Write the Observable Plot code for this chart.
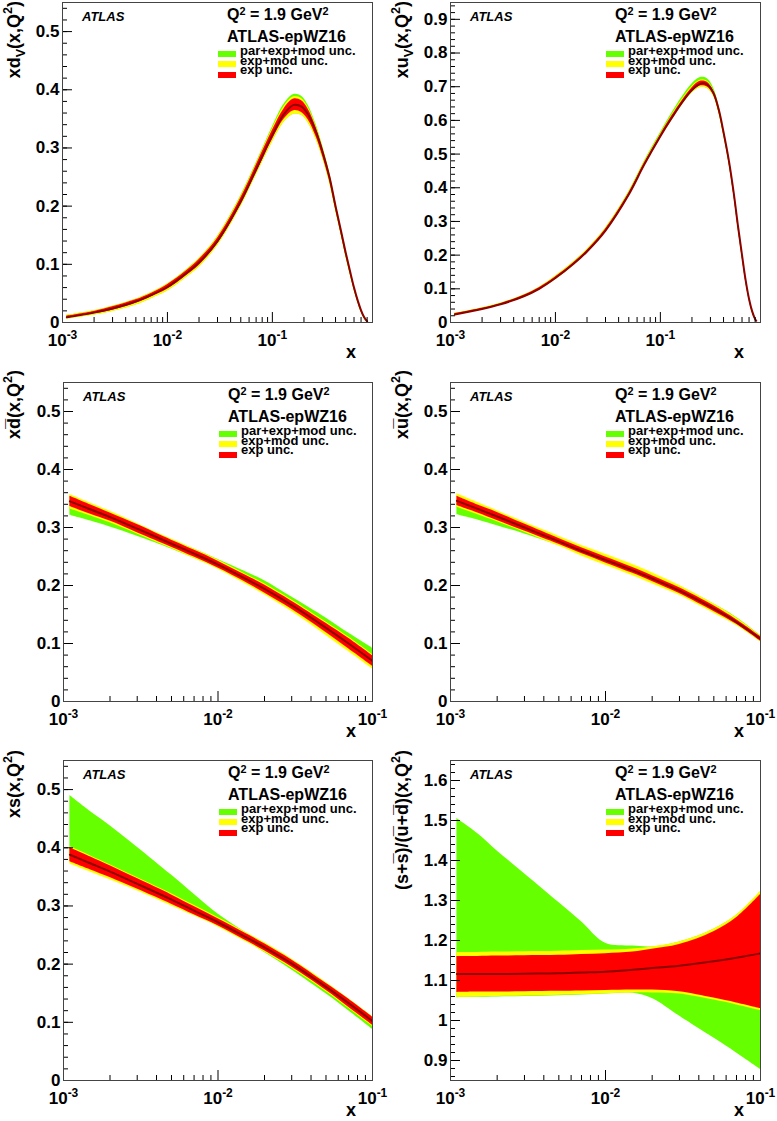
<!DOCTYPE html>
<html>
<head>
<meta charset="utf-8">
<script src="https://cdn.jsdelivr.net/npm/d3@7"></script>
<script src="https://cdn.jsdelivr.net/npm/@observablehq/plot@0.6"></script>
<style>
  body { margin: 0; background: #fff; }
  #root { position: relative; width: 777px; height: 1121px; overflow: hidden; background: #fff;
          font-family: "Liberation Sans", Arial, Helvetica, sans-serif; }
  .panel { position: absolute; }
  .ann { position: absolute; font-weight: bold; color: #000; white-space: nowrap; }
  .ann sup { font-size: 0.68em; vertical-align: 0.5em; line-height: 0; }
  .sw { position: absolute; width: 18px; height: 6px; }
</style>
</head>
<body>
<div id="root"></div>
<script>
// ---------------- data ----------------
// common x grid for the sea-quark panels
const X_SEA = [0.0011, 0.0015, 0.002, 0.003, 0.005, 0.007, 0.01, 0.015, 0.02, 0.03, 0.05, 0.07, 0.1];

// x d_v
const X_DV = [0.0011, 0.002, 0.003, 0.005, 0.007, 0.01, 0.015, 0.02, 0.03, 0.05, 0.07, 0.1, 0.13, 0.16, 0.19, 0.22, 0.26, 0.3, 0.35, 0.4, 0.45, 0.5, 0.55, 0.6, 0.65, 0.7, 0.75, 0.8];
const DV_C      = [0.009, 0.017, 0.024, 0.036, 0.047, 0.061, 0.084, 0.103, 0.140, 0.208, 0.263, 0.322, 0.359, 0.374, 0.371, 0.357, 0.328, 0.294, 0.250, 0.200, 0.158, 0.120, 0.088, 0.060, 0.038, 0.021, 0.009, 0.002];
const DV_EXP_LO = [0.007, 0.015, 0.021, 0.033, 0.044, 0.057, 0.080, 0.098, 0.135, 0.202, 0.256, 0.314, 0.350, 0.364, 0.361, 0.348, 0.320, 0.287, 0.244, 0.195, 0.154, 0.116, 0.085, 0.057, 0.036, 0.019, 0.008, 0.001];
const DV_EXP_HI = [0.011, 0.019, 0.027, 0.039, 0.050, 0.065, 0.088, 0.108, 0.145, 0.214, 0.270, 0.330, 0.368, 0.384, 0.381, 0.366, 0.336, 0.301, 0.256, 0.205, 0.162, 0.124, 0.091, 0.063, 0.040, 0.023, 0.010, 0.003];
const DV_MOD_LO = [0.006, 0.013, 0.019, 0.030, 0.041, 0.054, 0.077, 0.095, 0.132, 0.199, 0.253, 0.310, 0.345, 0.358, 0.356, 0.343, 0.316, 0.284, 0.241, 0.193, 0.152, 0.114, 0.083, 0.056, 0.035, 0.018, 0.007, 0.000];
const DV_MOD_HI = [0.012, 0.020, 0.028, 0.040, 0.051, 0.066, 0.089, 0.109, 0.147, 0.216, 0.272, 0.333, 0.372, 0.388, 0.385, 0.369, 0.338, 0.303, 0.258, 0.207, 0.163, 0.125, 0.092, 0.064, 0.041, 0.024, 0.011, 0.004];
const DV_PAR_LO = [0.006, 0.013, 0.019, 0.030, 0.041, 0.054, 0.077, 0.095, 0.132, 0.199, 0.253, 0.310, 0.345, 0.358, 0.356, 0.343, 0.316, 0.284, 0.241, 0.193, 0.152, 0.114, 0.083, 0.056, 0.035, 0.018, 0.007, 0.000];
const DV_PAR_HI = [0.012, 0.020, 0.028, 0.040, 0.051, 0.066, 0.090, 0.110, 0.148, 0.218, 0.274, 0.336, 0.376, 0.392, 0.389, 0.373, 0.341, 0.305, 0.259, 0.208, 0.164, 0.126, 0.093, 0.064, 0.041, 0.024, 0.011, 0.004];

// x u_v
const X_UV = [0.0011, 0.002, 0.003, 0.005, 0.007, 0.01, 0.015, 0.02, 0.03, 0.05, 0.07, 0.1, 0.13, 0.16, 0.2, 0.24, 0.28, 0.32, 0.36, 0.4, 0.45, 0.5, 0.55, 0.6, 0.65, 0.7, 0.75, 0.8, 0.82];
const UV_C      = [0.024, 0.040, 0.054, 0.078, 0.100, 0.132, 0.175, 0.211, 0.273, 0.380, 0.468, 0.553, 0.610, 0.652, 0.690, 0.709, 0.706, 0.682, 0.632, 0.565, 0.480, 0.385, 0.285, 0.200, 0.125, 0.070, 0.033, 0.010, 0.005];
const UV_EXP_LO = [0.022, 0.038, 0.052, 0.075, 0.097, 0.129, 0.172, 0.208, 0.269, 0.376, 0.464, 0.549, 0.605, 0.647, 0.684, 0.702, 0.699, 0.676, 0.626, 0.560, 0.475, 0.381, 0.281, 0.197, 0.122, 0.068, 0.031, 0.009, 0.004];
const UV_EXP_HI = [0.026, 0.042, 0.056, 0.081, 0.103, 0.135, 0.178, 0.214, 0.277, 0.384, 0.472, 0.557, 0.615, 0.657, 0.696, 0.716, 0.713, 0.688, 0.638, 0.570, 0.485, 0.389, 0.289, 0.203, 0.128, 0.072, 0.035, 0.011, 0.006];
const UV_MOD_LO = [0.021, 0.037, 0.051, 0.074, 0.096, 0.127, 0.170, 0.206, 0.267, 0.374, 0.462, 0.547, 0.602, 0.644, 0.681, 0.698, 0.695, 0.673, 0.623, 0.557, 0.473, 0.379, 0.279, 0.195, 0.121, 0.067, 0.030, 0.008, 0.003];
const UV_MOD_HI = [0.027, 0.043, 0.057, 0.082, 0.104, 0.137, 0.180, 0.216, 0.279, 0.386, 0.474, 0.559, 0.618, 0.661, 0.700, 0.719, 0.716, 0.691, 0.641, 0.573, 0.487, 0.391, 0.291, 0.205, 0.129, 0.073, 0.036, 0.012, 0.007];
const UV_PAR_LO = [0.021, 0.037, 0.051, 0.074, 0.096, 0.127, 0.170, 0.206, 0.267, 0.374, 0.462, 0.547, 0.602, 0.644, 0.681, 0.698, 0.695, 0.673, 0.623, 0.557, 0.473, 0.379, 0.279, 0.195, 0.121, 0.067, 0.030, 0.008, 0.003];
const UV_PAR_HI = [0.027, 0.043, 0.057, 0.082, 0.104, 0.137, 0.181, 0.217, 0.280, 0.388, 0.477, 0.563, 0.624, 0.668, 0.708, 0.727, 0.724, 0.698, 0.646, 0.577, 0.490, 0.393, 0.292, 0.206, 0.130, 0.073, 0.036, 0.012, 0.007];

// x dbar
const DB_C      = [0.345, 0.331, 0.318, 0.298, 0.272, 0.255, 0.236, 0.212, 0.194, 0.166, 0.127, 0.100, 0.070];
const DB_EXP_LO = [0.336, 0.323, 0.311, 0.291, 0.266, 0.249, 0.230, 0.206, 0.187, 0.159, 0.119, 0.091, 0.061];
const DB_EXP_HI = [0.354, 0.339, 0.325, 0.305, 0.278, 0.261, 0.242, 0.218, 0.201, 0.173, 0.135, 0.109, 0.079];
const DB_MOD_LO = [0.332, 0.320, 0.308, 0.289, 0.264, 0.247, 0.228, 0.203, 0.184, 0.155, 0.114, 0.086, 0.056];
const DB_MOD_HI = [0.357, 0.342, 0.328, 0.307, 0.280, 0.263, 0.244, 0.220, 0.203, 0.175, 0.137, 0.111, 0.081];
const DB_PAR_LO = [0.321, 0.311, 0.301, 0.285, 0.263, 0.247, 0.230, 0.207, 0.189, 0.162, 0.123, 0.097, 0.067];
const DB_PAR_HI = [0.343, 0.332, 0.321, 0.303, 0.279, 0.263, 0.245, 0.224, 0.208, 0.180, 0.144, 0.118, 0.092];

// x ubar
const UB_C      = [0.346, 0.332, 0.319, 0.300, 0.276, 0.260, 0.244, 0.226, 0.212, 0.191, 0.160, 0.137, 0.108];
const UB_EXP_LO = [0.338, 0.325, 0.312, 0.294, 0.271, 0.255, 0.239, 0.221, 0.207, 0.186, 0.155, 0.133, 0.104];
const UB_EXP_HI = [0.354, 0.339, 0.326, 0.306, 0.281, 0.265, 0.249, 0.231, 0.217, 0.196, 0.165, 0.141, 0.112];
const UB_MOD_LO = [0.335, 0.322, 0.310, 0.292, 0.268, 0.251, 0.235, 0.217, 0.203, 0.183, 0.152, 0.131, 0.103];
const UB_MOD_HI = [0.358, 0.343, 0.329, 0.309, 0.285, 0.269, 0.254, 0.236, 0.222, 0.200, 0.168, 0.144, 0.113];
const UB_PAR_LO = [0.322, 0.313, 0.303, 0.289, 0.269, 0.253, 0.238, 0.220, 0.206, 0.185, 0.154, 0.132, 0.104];
const UB_PAR_HI = [0.345, 0.333, 0.321, 0.303, 0.280, 0.264, 0.250, 0.232, 0.219, 0.199, 0.168, 0.145, 0.114];

// x s
const S_C      = [0.388, 0.373, 0.359, 0.338, 0.311, 0.292, 0.272, 0.247, 0.229, 0.201, 0.161, 0.133, 0.102];
const S_EXP_LO = [0.376, 0.362, 0.349, 0.329, 0.303, 0.285, 0.266, 0.241, 0.223, 0.195, 0.155, 0.126, 0.095];
const S_EXP_HI = [0.400, 0.384, 0.369, 0.347, 0.319, 0.299, 0.278, 0.253, 0.235, 0.207, 0.167, 0.140, 0.109];
const S_MOD_LO = [0.372, 0.358, 0.345, 0.326, 0.300, 0.283, 0.264, 0.239, 0.221, 0.193, 0.153, 0.124, 0.093];
const S_MOD_HI = [0.402, 0.386, 0.371, 0.349, 0.321, 0.301, 0.280, 0.255, 0.237, 0.209, 0.169, 0.141, 0.110];
const S_PAR_LO = [0.376, 0.362, 0.349, 0.329, 0.303, 0.285, 0.266, 0.241, 0.220, 0.190, 0.149, 0.120, 0.088];
const S_PAR_HI = [0.490, 0.462, 0.438, 0.401, 0.353, 0.320, 0.286, 0.255, 0.235, 0.207, 0.167, 0.140, 0.109];

// (s+sbar)/(ubar+dbar)
const RS_C      = [1.116, 1.116, 1.116, 1.117, 1.118, 1.120, 1.122, 1.127, 1.131, 1.137, 1.148, 1.157, 1.168];
const RS_EXP_LO = [1.070, 1.071, 1.071, 1.072, 1.073, 1.074, 1.075, 1.076, 1.076, 1.072, 1.056, 1.044, 1.030];
const RS_EXP_HI = [1.160, 1.160, 1.161, 1.162, 1.163, 1.165, 1.167, 1.171, 1.178, 1.190, 1.222, 1.257, 1.315];
const RS_MOD_LO = [1.058, 1.059, 1.060, 1.061, 1.063, 1.065, 1.067, 1.069, 1.069, 1.066, 1.051, 1.039, 1.025];
const RS_MOD_HI = [1.170, 1.170, 1.171, 1.172, 1.173, 1.175, 1.176, 1.179, 1.184, 1.196, 1.228, 1.263, 1.322];
const RS_PAR_LO = [1.057, 1.058, 1.059, 1.060, 1.062, 1.064, 1.066, 1.068, 1.055, 1.011, 0.956, 0.919, 0.878];
const RS_PAR_HI = [1.505, 1.467, 1.424, 1.367, 1.295, 1.247, 1.193, 1.186, 1.184, 1.196, 1.228, 1.263, 1.322];

// axis tick labels
const X_MAJOR = [0.001, 0.01, 0.1];
const Y_TICKS_V  = [0, 0.1, 0.2, 0.3, 0.4, 0.5];
const Y_TICKS_UV = [0, 0.1, 0.2, 0.3, 0.4, 0.5, 0.6, 0.7, 0.8, 0.9];
const Y_TICKS_RS = [0.9, 1, 1.1, 1.2, 1.3, 1.4, 1.5, 1.6];

// text
const Q2_TEXT = "Q<sup>2</sup> = 1.9 GeV<sup>2</sup>";
const FIT_NAME = "ATLAS-epWZ16";
const LEGEND_LABELS = ["par+exp+mod unc.", "exp+mod unc.", "exp unc."];
const COLORS = {par: "#66ff00", mod: "#ffff00", exp: "#ff0000", line: "#8b0000"};

// ---------------- build ----------------
function rows(X, C, eLo, eHi, mLo, mHi, pLo, pHi) {
  return X.map((x, i) => ({x, c: C[i], eLo: eLo[i], eHi: eHi[i], mLo: mLo[i], mHi: mHi[i], pLo: pLo[i], pHi: pHi[i]}));
}

const PANELS = [
  {left: 0, top: 0, w: 388, h: 372, mL: 62, mR: 16, mT: 2, mB: 50, xMax: 0.9, yDom: [0, 0.55], yTicks: Y_TICKS_V, titleEnd: 1,
   title: [["xd", 0], ["V", 1], ["(x,Q", 0], ["2", -1], [")", 0]],
   data: rows(X_DV, DV_C, DV_EXP_LO, DV_EXP_HI, DV_MOD_LO, DV_MOD_HI, DV_PAR_LO, DV_PAR_HI)},
  {left: 388, top: 0, w: 389, h: 372, mL: 62, mR: 17, mT: 2, mB: 50, xMax: 0.9, yDom: [0, 0.95], yTicks: Y_TICKS_UV, titleEnd: 1,
   title: [["xu", 0], ["V", 1], ["(x,Q", 0], ["2", -1], [")", 0]],
   data: rows(X_UV, UV_C, UV_EXP_LO, UV_EXP_HI, UV_MOD_LO, UV_MOD_HI, UV_PAR_LO, UV_PAR_HI)},
  {left: 0, top: 366, w: 388, h: 379, mL: 63, mR: 16, mT: 16, mB: 44, xMax: 0.1, yDom: [0, 0.55], yTicks: Y_TICKS_V, titleEnd: 4,
   title: [["xd\u0305(x,Q", 0], ["2", -1], [")", 0]],
   data: rows(X_SEA, DB_C, DB_EXP_LO, DB_EXP_HI, DB_MOD_LO, DB_MOD_HI, DB_PAR_LO, DB_PAR_HI)},
  {left: 388, top: 366, w: 389, h: 379, mL: 62, mR: 17, mT: 16, mB: 44, xMax: 0.1, yDom: [0, 0.55], yTicks: Y_TICKS_V, titleEnd: 4,
   title: [["xu\u0305(x,Q", 0], ["2", -1], [")", 0]],
   data: rows(X_SEA, UB_C, UB_EXP_LO, UB_EXP_HI, UB_MOD_LO, UB_MOD_HI, UB_PAR_LO, UB_PAR_HI)},
  {left: 0, top: 745, w: 388, h: 376, mL: 63, mR: 16, mT: 15, mB: 41, xMax: 0.1, yDom: [0, 0.55], yTicks: Y_TICKS_V, titleEnd: 5,
   title: [["xs(x,Q", 0], ["2", -1], [")", 0]],
   data: rows(X_SEA, S_C, S_EXP_LO, S_EXP_HI, S_MOD_LO, S_MOD_HI, S_PAR_LO, S_PAR_HI)},
  {left: 388, top: 745, w: 389, h: 376, mL: 62, mR: 17, mT: 15, mB: 41, xMax: 0.1, yDom: [0.85, 1.65], yTicks: Y_TICKS_RS, titleEnd: 5,
   title: [["(s+s\u0305)/(u\u0305+d\u0305)(x,Q", 0], ["2", -1], [")", 0]],
   data: rows(X_SEA, RS_C, RS_EXP_LO, RS_EXP_HI, RS_MOD_LO, RS_MOD_HI, RS_PAR_LO, RS_PAR_HI)}
];

const root = document.getElementById("root");
const NS = "http://www.w3.org/2000/svg";
const FONT = "'Liberation Sans', Arial, Helvetica, sans-serif";

function minorX(max) {
  const t = [];
  for (const d of X_MAJOR) for (let k = 2; k < 10; k++) { const v = +(k * d).toPrecision(3); if (v <= max) t.push(v); }
  return t;
}
function minorY([lo, hi]) {
  return d3.range(Math.ceil(lo / 0.02 - 1e-6), Math.floor(hi / 0.02 + 1e-6) + 1).map(i => +(i * 0.02).toFixed(3));
}

// place a text so that its baseline sits at `baseline`; the box is kept compact (lineH)
function addDiv(html, left, baseline, size, lineH, extraStyle = "") {
  const d = document.createElement("div");
  d.className = "ann";
  const top = baseline - (lineH / 2 + 0.3465 * size);
  d.style.cssText = `left:${left}px;top:${top}px;font-size:${size}px;line-height:${lineH}px;height:${lineH}px;${extraStyle}`;
  d.innerHTML = html;
  root.appendChild(d);
}

for (const p of PANELS) {
  const fw = p.w - p.mL - p.mR;
  const fh = p.h - p.mT - p.mB;
  const curve = "catmull-rom";
  const fmtY = d => String(+d.toFixed(2));
  const xMaj = X_MAJOR.filter(v => v <= p.xMax * 1.0001);
  const chart = Plot.plot({
    width: p.w, height: p.h,
    marginLeft: p.mL, marginRight: p.mR, marginTop: p.mT, marginBottom: p.mB,
    x: {type: "log", domain: [0.001, p.xMax]},
    y: {domain: p.yDom},
    style: {fontFamily: FONT, fontSize: "17px", fontWeight: "bold", background: "transparent", overflow: "visible", color: "#000"},
    marks: [
      Plot.areaY(p.data, {x: "x", y1: "pLo", y2: "pHi", fill: COLORS.par, curve, clip: true}),
      Plot.areaY(p.data, {x: "x", y1: "mLo", y2: "mHi", fill: COLORS.mod, curve, clip: true}),
      Plot.areaY(p.data, {x: "x", y1: "eLo", y2: "eHi", fill: COLORS.exp, curve, clip: true}),
      Plot.line(p.data, {x: "x", y: "c", stroke: COLORS.line, strokeWidth: 2, curve, clip: true}),
      Plot.tickY(minorY(p.yDom), {y: d => d, insetRight: fw - 5, stroke: "#000"}),
      Plot.tickY(p.yTicks, {y: d => d, insetRight: fw - 10, stroke: "#000"}),
      Plot.tickX(minorX(p.xMax), {x: d => d, insetTop: fh - 5, stroke: "#000"}),
      Plot.tickX(xMaj, {x: d => d, insetTop: fh - 10, stroke: "#000"}),
      Plot.axisY({ticks: p.yTicks, tickSize: 0, tickPadding: 3, tickFormat: fmtY, label: null}),
      Plot.axisX({ticks: xMaj, tickSize: 0, tickPadding: 11,
                  tickFormat: d => String(Math.round(Math.log10(d))), label: null}),
      Plot.frame({stroke: "#444"})
    ]
  });

  // power-of-ten tick labels: "10" with a superscript exponent
  chart.querySelectorAll('g[aria-label="x-axis tick label"] text').forEach(t => {
    const e = t.textContent;
    t.textContent = "10";
    const s = document.createElementNS(NS, "tspan");
    s.setAttribute("dy", "-7");
    s.setAttribute("font-size", "12");
    s.textContent = e;
    t.appendChild(s);
  });

  // y-axis title (rotated, right-aligned to the top)
  const yt = document.createElementNS(NS, "text");
  yt.setAttribute("transform", `translate(20,${p.titleEnd}) rotate(-90)`);
  yt.setAttribute("text-anchor", "end");
  yt.setAttribute("font-size", "18");
  yt.setAttribute("font-weight", "bold");
  yt.setAttribute("font-family", FONT);
  let shift = 0;
  for (const [s, k] of p.title) {
    const ts = document.createElementNS(NS, "tspan");
    const target = k === 1 ? 5 : k === -1 ? -8 : 0;
    if (target !== shift) ts.setAttribute("dy", target - shift);
    shift = target;
    if (k) ts.setAttribute("font-size", "12.5");
    ts.textContent = s;
    yt.appendChild(ts);
  }
  chart.appendChild(yt);

  // x-axis title
  const xt = document.createElementNS(NS, "text");
  xt.setAttribute("x", p.w - p.mR - 16);
  xt.setAttribute("y", p.h - p.mB + 36);
  xt.setAttribute("text-anchor", "end");
  xt.setAttribute("font-size", "18");
  xt.setAttribute("font-weight", "bold");
  xt.setAttribute("font-family", FONT);
  xt.textContent = "x";
  chart.appendChild(xt);

  const wrap = document.createElement("div");
  wrap.className = "panel";
  wrap.style.left = p.left + "px";
  wrap.style.top = p.top + "px";
  wrap.appendChild(chart);
  root.appendChild(wrap);

  // annotations and legend, placed relative to the frame
  const fx = p.left + p.mL, fy = p.top + p.mT;
  addDiv("ATLAS", fx + 20, fy + 19, 13, 13, "font-style:italic;");
  addDiv(Q2_TEXT, fx + 165, fy + 18.5, 16, 16);
  addDiv(FIT_NAME, fx + 165, fy + 40.6, 16, 16);
  const swCenters = [51.5, 62, 72.5];
  const baselines = [53, 62.8, 72.5];
  const swColors = [COLORS.par, COLORS.mod, COLORS.exp];
  LEGEND_LABELS.forEach((lab, i) => {
    const sw = document.createElement("div");
    sw.className = "sw";
    sw.style.left = (fx + 155.5) + "px";
    sw.style.top = (fy + swCenters[i] - 3) + "px";
    sw.style.background = swColors[i];
    root.appendChild(sw);
    addDiv(lab, fx + 178, fy + baselines[i], 13, 9);
  });
}
</script>
</body>
</html>
